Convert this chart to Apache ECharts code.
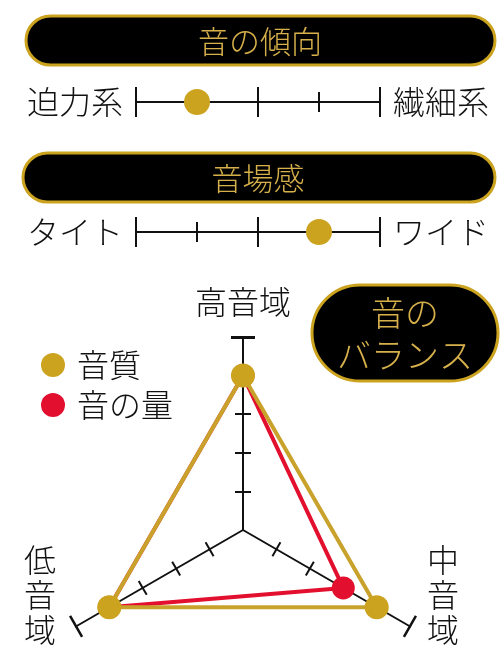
<!DOCTYPE html>
<html>
<head>
<meta charset="utf-8">
<script src="https://cdn.jsdelivr.net/npm/echarts@6/dist/echarts.min.js"></script>
<style>
html, body { margin: 0; padding: 0; background: #fff; }
#main { width: 500px; height: 646px; }
</style>
</head>
<body>
<div id="main"></div>
<script>
// データ
var sliderTitles = ['音の傾向', '音場感'];
var sliderLeft = ['迫力系', 'タイト'];
var sliderRight = ['繊細系', 'ワイド'];
var sliderValues = [1, 3];
var sliderMax = 4;

var radarTitle = ['音の', 'バランス'];
var radarAxes = ['高音域', '低音域', '中音域'];
var radarMax = 5;
var seriesNames = ['音質', '音の量'];
var qualityValues = [4, 4, 4];
var volumeValues = [4, 4, 3];

var GOLD = '#cba31f';
var GOLD_LINE = '#c9a22c';
var GOLD_TEXT = '#d6b04a';
var RED = '#e2102e';
var FONT = "'Noto Sans CJK JP', sans-serif";

var cx = 243, cy = 530, R = 193;

lineTable('main');

function pill(x, y, w, h, lines, tx, ty, size, lh) {
    return {
        type: 'group',
        children: [
            {
                type: 'rect',
                shape: { x: x, y: y, width: w, height: h, r: h / 2 },
                style: { fill: '#000', stroke: GOLD, lineWidth: 3 }
            },
            {
                type: 'text',
                x: tx, y: ty,
                style: {
                    text: lines.join('\n'), fill: GOLD_TEXT, font: '300 ' + size + 'px ' + FONT,
                    lineHeight: lh, align: 'center', verticalAlign: 'middle'
                }
            }
        ]
    };
}

function axisName(text, x, y, lh) {
    return {
        type: 'text', x: x, y: y,
        style: {
            text: text, fill: '#111', font: '300 32px ' + FONT, lineHeight: lh,
            align: 'center', verticalAlign: 'middle'
        }
    };
}

function lineTable(id) {
    var myChart = echarts.init(document.getElementById(id));

    var grids = [], xAxes = [], yAxes = [], series = [];
    var sliderTops = [102, 232];
    for (var i = 0; i < sliderValues.length; i++) {
        grids.push({ left: 136, right: 120, top: sliderTops[i], height: 0 });
        ['bottom', 'top'].forEach(function (pos) {
            xAxes.push({
                type: 'value', gridIndex: i, position: pos, min: 0, max: sliderMax, interval: 2,
                axisLine: { show: pos === 'bottom', onZero: false, lineStyle: { color: '#111', width: 2 } },
                axisTick: { show: true, length: 15, lineStyle: { color: '#111', width: 2 } },
                minorTick: { show: true, splitNumber: 2, length: 10, lineStyle: { color: '#111', width: 2 } },
                axisLabel: { show: false },
                splitLine: { show: false },
                minorSplitLine: { show: false }
            });
        });
        yAxes.push({
            type: 'category', gridIndex: i, position: 'left', data: [sliderLeft[i]],
            axisLine: { show: false }, axisTick: { show: false },
            axisLabel: { margin: 13, fontSize: 32, fontWeight: 300, fontFamily: FONT, color: '#111' }
        });
        yAxes.push({
            type: 'category', gridIndex: i, position: 'right', data: [sliderRight[i]],
            axisLine: { show: false }, axisTick: { show: false },
            axisLabel: { margin: 13, fontSize: 32, fontWeight: 300, fontFamily: FONT, color: '#111' }
        });
        series.push({
            type: 'scatter', xAxisIndex: i * 2, yAxisIndex: i * 2,
            symbolSize: 26, itemStyle: { color: GOLD, opacity: 1 },
            data: [[sliderValues[i], 0]], z: 5
        });
    }

    function indicators(min, max) {
        return radarAxes.map(function (n) { return { name: n, min: min, max: max }; });
    }
    var tickLine = { color: '#111', width: 2 };
    var radars = [
        {
            center: [cx, cy], radius: R, startAngle: 90, indicator: indicators(0, radarMax),
            axisName: { show: false },
            axisLine: { lineStyle: { color: '#111', width: 2 } },
            splitLine: { show: false }, splitArea: { show: false }
        }
    ];
    // 目盛り：片側ずつ。反対側は向きを180°回して半径を負にする
    [1, -1].forEach(function (s) {
        var start = s > 0 ? 90 : 270;
        radars.push({
            center: [cx, cy], radius: [s * R / radarMax, s * R], startAngle: start,
            indicator: indicators(1, radarMax), splitNumber: radarMax - 1,
            axisName: { show: false }, axisLine: { show: false },
            axisTick: { show: true, length: 8, lineStyle: tickLine },
            splitLine: { show: false }, splitArea: { show: false }
        });
        radars.push({
            center: [cx, cy], radius: [s * (R - 0.5), s * R], startAngle: start,
            indicator: indicators(0, 1), splitNumber: 1,
            axisName: { show: false }, axisLine: { show: false },
            axisTick: { show: true, length: 12, lineStyle: tickLine },
            splitLine: { show: false }, splitArea: { show: false }
        });
    });

    series.push({
        type: 'radar', radarIndex: 0, z: 3,
        symbol: 'circle', symbolSize: 23,
        data: [{
            name: seriesNames[1], value: volumeValues,
            itemStyle: { color: RED }, lineStyle: { color: RED, width: 4 }
        }]
    });
    series.push({
        type: 'radar', radarIndex: 0, z: 4,
        symbol: 'circle', symbolSize: 24,
        data: [{
            name: seriesNames[0], value: qualityValues,
            itemStyle: { color: GOLD }, lineStyle: { color: GOLD_LINE, width: 4 }
        }]
    });

    var option = {
        backgroundColor: '#fff',
        animation: false,
        textStyle: { fontFamily: FONT },
        legend: {
            data: seriesNames, orient: 'vertical', left: 41, top: 349, padding: 0,
            icon: 'circle', itemWidth: 24, itemHeight: 24, itemGap: 8,
            selectedMode: false,
            textStyle: {
                fontSize: 32, lineHeight: 32, fontWeight: 300, fontFamily: FONT, color: '#111',
                padding: [0, 0, 0, 7]
            }
        },
        grid: grids,
        xAxis: xAxes,
        yAxis: yAxes,
        radar: radars,
        series: series,
        graphic: [
            pill(26, 16, 469, 49, [sliderTitles[0]], 260, 41, 31, 36),
            pill(23, 153, 472, 49, [sliderTitles[1]], 258, 178, 31, 36),
            pill(312, 285, 186, 96, radarTitle, 405, 334, 34, 42),
            axisName(radarAxes[0], cx, cy - R - 35, 35),
            axisName(radarAxes[1].split('').join('\n'), 40, 595, 35),
            axisName(radarAxes[2].split('').join('\n'), 443, 595, 35)
        ]
    };

    myChart.setOption(option);
    window.addEventListener('resize', function () { myChart.resize(); });
}
</script>
</body>
</html>
